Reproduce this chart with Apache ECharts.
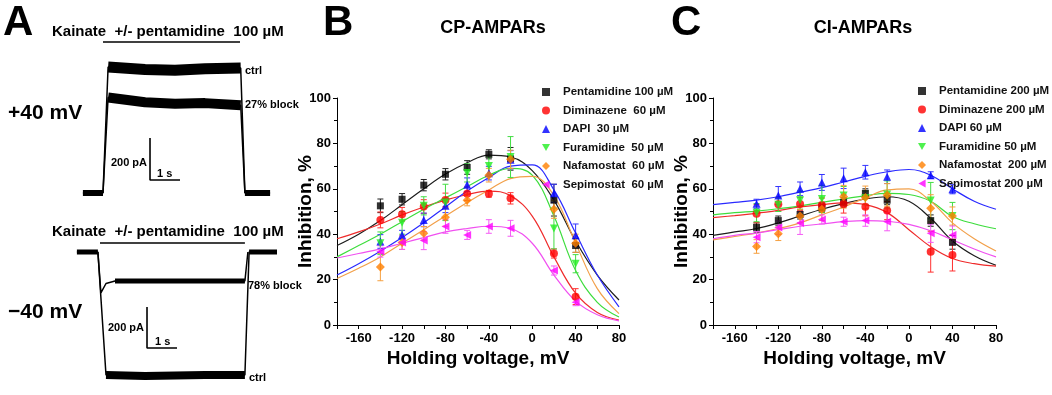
<!DOCTYPE html>
<html>
<head>
<meta charset="utf-8">
<script src="https://cdn.jsdelivr.net/npm/echarts@6.0.0/dist/echarts.min.js"></script>
<style>
html,body{margin:0;padding:0;background:#fff;}
#chart{width:1052px;height:395px;}
</style>
</head>
<body>
<div id="chart"></div>
<script>
// ---- panel A: example traces (time in s, current in pA) ----
var topCtrlTime = [0.43, 1.1, 1.27, 2.5, 3.5, 4.5, 5.69, 5.83, 6.67];
var topCtrlCurrent = [0, 0, 600, 588, 585, 592, 595, 0, 0];
var topBlockTime = [1.1, 1.27, 2.5, 3.5, 4.5, 5.69, 5.83];
var topBlockCurrent = [0, 455, 432, 425, 428, 418, 0];
var botCtrlTime = [0.23, 0.93, 1.2, 2.5, 3.5, 4.5, 5.83, 5.97, 6.9];
var botCtrlCurrent = [0, 0, -586, -590, -588, -586, -586, 0, 0];
var botBlockTime = [0.93, 1.03, 1.2, 1.5, 3.5, 5.83, 5.93];
var botBlockCurrent = [0, -195, -150, -138, -138, -138, 0];

// ---- panels B / C ----
var voltages = [-140, -120, -100, -80, -60, -40, -20, 20, 40];
var fitVoltages = [-180, -160, -140, -120, -100, -80, -60, -40, -20, 0, 20, 40, 60, 80];
var xTicks = [-160, -120, -80, -40, 0, 40, 80];

var cpNames = ['Pentamidine 100 µM', 'Diminazene  60 µM', 'DAPI  30 µM', 'Furamidine  50 µM', 'Nafamostat  60 µM', 'Sepimostat  60 µM'];
var cpPentamidine = [52.5, 55.4, 61.6, 66.4, 69.4, 75.2, 73.2, 55, 35];
var cpPentamidineErr = [3, 2.5, 2.5, 2.5, 3, 2, 5, 7, 3];
var cpPentamidineFit = [35, 40, 46, 53, 60, 66.5, 71.5, 74.8, 74, 68, 55, 37, 22, 11];
var cpDiminazene = [46.3, 48.8, 52.2, 55.1, 57.8, 57.8, 55.8, 31.5, 12.5];
var cpDiminazeneErr = [3.5, 3, 3, 3, 3, 1.5, 2.5, 2, 3.5];
var cpDiminazeneFit = [38, 41, 44.5, 48.5, 52, 55, 57.5, 59, 57, 48, 30, 14, 5.5, 2.2];
var cpDapi = [36.8, 39.7, 46.3, 52.5, 61.8, 66.9, 72.8, 58, 39.5];
var cpDapiErr = [3, 2, 3, 3, 3, 3, 4, 4, 5];
var cpDapiFit = [22, 27, 32.5, 38.5, 45, 52, 59, 65, 70, 70.5, 59.5, 40.5, 22, 8];
var cpFuramidine = [36, 45, 52.5, 54, 67, 70, 74, 42.5, 27];
var cpFuramidineErr = [5, 5, 4, 8, 4, 4, 9, 9, 4];
var cpFuramidineFit = [30, 35, 40, 45.5, 51, 56, 61, 66, 69, 66, 48, 24, 10, 3.5];
var cpNafamostat = [25.5, 36.3, 40.4, 47.5, 55, 66, 73, 51, 36];
var cpNafamostatErr = [6, 3, 3, 4, 2.5, 3, 4, 4, 4];
var cpNafamostatFit = [20.5, 25, 30, 36, 42, 48, 54, 59.5, 64.5, 65.5, 57, 36, 16, 5];
var cpSepimostat = [32.4, 36.3, 37.2, 43.4, 39.7, 43.4, 42.6, 24, 10];
var cpSepimostatErr = [2.5, 3, 4, 3, 2, 3, 3.5, 2, 1.5];
var cpSepimostatFit = [29.5, 31.5, 33.5, 36, 38.5, 41, 42.5, 43.5, 42.5, 36, 22, 10.5, 4.5, 1.8];

var ciNames = ['Pentamidine 200 µM', 'Diminazene 200 µM', 'DAPI 60 µM', 'Furamidine 50 µM', 'Nafamostat  200 µM', 'Sepimostat 200 µM'];
var ciPentamidine = [43, 46, 48.7, 51.6, 54, 58, 55, 46, 36.4];
var ciPentamidineErr = [2, 2, 2, 2, 2, 2, 2, 2.5, 3];
var ciPentamidineFit = [39.5, 41, 42.5, 45, 48, 51, 53.5, 55.5, 56.5, 54.5, 47, 37, 30.5, 26.3];
var ciDiminazene = [49, 53.2, 53.3, 52.9, 53.3, 52.1, 50.4, 32.3, 30.8];
var ciDiminazeneErr = [4, 3, 3, 3, 4, 4, 4, 9, 7];
var ciDiminazeneFit = [47.3, 48.2, 49.2, 50.5, 52, 53, 53.8, 53, 49.5, 42, 34.5, 29.3, 27, 25.9];
var ciDapi = [53.4, 57, 60, 62.8, 64.6, 67.3, 65.3, 66, 59.8];
var ciDapiErr = [2, 4, 3, 3.5, 4.5, 3, 3, 1.5, 2];
var ciDapiFit = [53, 54, 55, 56.5, 58.5, 60.5, 63, 65.5, 67.5, 68.5, 66, 60, 54.5, 51];
var ciFuramidine = [49.5, 53, 55, 55.5, 57, 56, 57.5, 54.8, 48];
var ciFuramidineErr = [4, 3, 4, 6, 4, 3, 6, 8, 6];
var ciFuramidineFit = [48.5, 49.5, 50.2, 51.2, 52.5, 54, 55.5, 57, 58, 57.5, 54.5, 47.8, 44.6, 42.4];
var ciNafamostat = [34.6, 40.2, 48, 51, 56.5, 56.2, 57.3, 51.4, 48];
var ciNafamostatErr = [3, 3, 3, 5, 5, 5, 5, 6, 4];
var ciNafamostatFit = [37.5, 39, 40.5, 42.5, 45, 48.5, 52, 56, 59.5, 60, 54.5, 45, 38, 32.6];
var ciSepimostat = [38.7, 42.9, 44.9, 46.5, 45.5, 46, 45.5, 40.4, 39.6];
var ciSepimostatErr = [2.5, 3, 5, 2, 2, 2.5, 4, 4, 4];
var ciSepimostatFit = [38, 39.5, 40.5, 42, 43.5, 44.5, 45.5, 46, 45.7, 44.3, 41.5, 37.5, 33.5, 30];

var FONT = '"Liberation Sans", Arial, sans-serif';
var DOWN_TRI = 'path://M0,0L10,0L5,9Z';
var LEFT_TRI = 'path://M9,0L9,10L0,5Z';

var markers = [
    {symbol: 'rect', size: 7, color: '#000000', line: '#1c1c1c', bar: '#222222'},
    {symbol: 'circle', size: 8, color: '#ff0000', line: '#ef2b2b', bar: '#ff3030'},
    {symbol: 'triangle', size: 8, color: '#0000ff', line: '#2a2aff', bar: '#3434ff'},
    {symbol: DOWN_TRI, size: 8, color: '#22ee22', line: '#3ddd3d', bar: '#44dd44'},
    {symbol: 'diamond', size: 9, color: '#ff8000', line: '#f2a04a', bar: '#f5a040'},
    {symbol: LEFT_TRI, size: 8, color: '#ff00ff', line: '#f050f0', bar: '#f55af5'}
];

function pairs(xs, ys) {
    return xs.map(function (x, i) { return [x, ys[i]]; });
}
function bars(xs, ys, es) {
    return xs.map(function (x, i) { return [x, ys[i] - es[i], ys[i] + es[i]]; });
}

function errorBar(params, api) {
    var x = api.value(0);
    var lo = api.coord([x, api.value(1)]);
    var hi = api.coord([x, api.value(2)]);
    var c = api.visual('color');
    var w = 3;
    var st = {stroke: c, lineWidth: 1};
    return {
        type: 'group',
        children: [
            {type: 'line', shape: {x1: lo[0], y1: lo[1], x2: hi[0], y2: hi[1]}, style: st},
            {type: 'line', shape: {x1: lo[0] - w, y1: lo[1], x2: lo[0] + w, y2: lo[1]}, style: st},
            {type: 'line', shape: {x1: hi[0] - w, y1: hi[1], x2: hi[0] + w, y2: hi[1]}, style: st}
        ]
    };
}

function panelSeries(names, values, errs, fits, idx) {
    var out = [];
    names.forEach(function (n, i) {
        var m = markers[i];
        out.push({
            name: n + ' fit', type: 'line', xAxisIndex: idx, yAxisIndex: idx,
            data: pairs(fitVoltages, fits[i]), smooth: 0.4, showSymbol: false, silent: true, z: 2,
            lineStyle: {color: m.line, width: 1.2}
        });
    });
    names.forEach(function (n, i) {
        out.push({
            name: n + ' sem', type: 'custom', xAxisIndex: idx, yAxisIndex: idx,
            data: bars(voltages, values[i], errs[i]), renderItem: errorBar, z: 3,
            itemStyle: {color: markers[i].bar}
        });
    });
    names.forEach(function (n, i) {
        var m = markers[i];
        out.push({
            name: n, type: 'scatter', xAxisIndex: idx, yAxisIndex: idx,
            data: pairs(voltages, values[i]), symbol: m.symbol, symbolSize: m.size, z: 4,
            itemStyle: {color: m.color}
        });
    });
    return out;
}

function legendData(names) {
    return names.map(function (n, i) {
        return {name: n, icon: markers[i].symbol};
    });
}

function traceLine(t, c, idx, width) {
    return {
        type: 'line', xAxisIndex: idx, yAxisIndex: idx, data: pairs(t, c),
        showSymbol: false, silent: true, lineStyle: {color: '#000', width: width, cap: 'butt'}
    };
}

function boldText(x, y, text, size, align) {
    return {
        type: 'text', x: x, y: y,
        style: {text: text, font: 'bold ' + size + 'px ' + FONT, fill: '#000', align: align || 'left', verticalAlign: 'middle'}
    };
}

function valueAxisX(grid) {
    return {
        type: 'value', gridIndex: grid, min: -180, max: 80, interval: 20,
        name: 'Holding voltage, mV', nameLocation: 'middle', nameGap: 24, nameMoveOverlap: false,
        nameTextStyle: {fontFamily: FONT, fontWeight: 'bold', fontSize: 19, color: '#000'},
        axisLine: {onZero: false, lineStyle: {color: '#000', width: 1}},
        axisTick: {length: 4, lineStyle: {color: '#000'}},
        axisLabel: {
            fontFamily: FONT, fontWeight: 'bold', fontSize: 13, color: '#000', margin: 7,
            formatter: function (v) { return xTicks.indexOf(v) >= 0 ? String(v) : ''; }
        },
        splitLine: {show: false}
    };
}
function valueAxisY(grid) {
    return {
        type: 'value', gridIndex: grid, min: 0, max: 100, interval: 20,
        name: 'Inhibition, %', nameLocation: 'middle', nameGap: 22, nameMoveOverlap: false,
        nameTextStyle: {fontFamily: FONT, fontWeight: 'bold', fontSize: 19, color: '#000'},
        axisLine: {show: true, onZero: false, lineStyle: {color: '#000', width: 1}},
        axisTick: {show: true, length: 4, lineStyle: {color: '#000'}},
        minorTick: {show: true, splitNumber: 2, length: 3, lineStyle: {color: '#000'}},
        axisLabel: {fontFamily: FONT, fontWeight: 'bold', fontSize: 13, color: '#000', margin: 6},
        splitLine: {show: false}
    };
}
function hiddenAxis(grid, min, max) {
    return {type: 'value', gridIndex: grid, min: min, max: max, show: false, splitLine: {show: false}};
}

var legendText = {fontFamily: FONT, fontWeight: 'bold', fontSize: 11.5, color: '#111', padding: [0, 0, 0, 8]};

var option = {
    animation: false,
    backgroundColor: '#fff',
    grid: [
        {left: 70, top: 25, width: 210, height: 189},
        {left: 70, top: 210, width: 210, height: 178.5},
        {left: 337, top: 98, width: 282, height: 227},
        {left: 713, top: 98, width: 283, height: 227}
    ],
    xAxis: [hiddenAxis(0, 0, 7), hiddenAxis(1, 0, 7), valueAxisX(2), valueAxisX(3)],
    yAxis: [hiddenAxis(0, -100, 800), hiddenAxis(1, -650, 200), valueAxisY(2), valueAxisY(3)],
    legend: [
        {data: legendData(cpNames), orient: 'vertical', left: 537, top: 81, itemWidth: 8, itemHeight: 8, itemGap: 6.5, textStyle: legendText},
        {data: legendData(ciNames), orient: 'vertical', left: 913, top: 80, itemWidth: 8, itemHeight: 8, itemGap: 6.5, textStyle: legendText}
    ],
    graphic: [
        boldText(3, 23, 'A', 42),
        boldText(323, 23, 'B', 42),
        boldText(671, 23, 'C', 42),
        boldText(493, 28, 'CP-AMPARs', 18, 'center'),
        boldText(863, 28, 'CI-AMPARs', 18, 'center'),
        boldText(52, 32, 'Kainate  +/- pentamidine  100 µM', 15),
        boldText(52, 232, 'Kainate  +/- pentamidine  100 µM', 15),
        boldText(8, 113, '+40 mV', 21),
        boldText(8, 312, '\u221240 mV', 21),
        boldText(245, 71, 'ctrl', 11),
        boldText(245, 105, '27% block', 11),
        boldText(248, 286, '78% block', 11),
        boldText(249, 378, 'ctrl', 11),
        boldText(147, 163, '200 pA', 11, 'right'),
        boldText(157, 174, '1 s', 11),
        boldText(144, 328, '200 pA', 11, 'right'),
        boldText(155, 342, '1 s', 11)
    ],
    series: [].concat(
        [
            // application bars
            traceLine([1.1, 5.667], [719, 719], 0, 1.6),
            traceLine([1.0, 5.83], [43, 43], 1, 1.6),
            // scale bars
            traceLine([2.667, 2.667, 3.667], [262, 62, 62], 0, 1.6),
            traceLine([2.567, 2.567, 3.567], [-262, -457, -457], 1, 1.6),
            // traces
            traceLine(topCtrlTime, topCtrlCurrent, 0, 1.5),
            traceLine(topBlockTime, topBlockCurrent, 0, 1.5),
            traceLine(botCtrlTime, botCtrlCurrent, 1, 1.5),
            traceLine(botBlockTime, botBlockCurrent, 1, 1.5),
            // noise bands on plateaus and baselines
            traceLine(topCtrlTime.slice(2, 7), topCtrlCurrent.slice(2, 7), 0, 11),
            traceLine(topBlockTime.slice(1, 6), topBlockCurrent.slice(1, 6), 0, 10),
            traceLine(topCtrlTime.slice(0, 2), topCtrlCurrent.slice(0, 2), 0, 6),
            traceLine(topCtrlTime.slice(7), topCtrlCurrent.slice(7), 0, 6),
            traceLine(botCtrlTime.slice(2, 7), botCtrlCurrent.slice(2, 7), 1, 8),
            traceLine(botBlockTime.slice(3, 6), botBlockCurrent.slice(3, 6), 1, 5),
            traceLine(botCtrlTime.slice(0, 2), botCtrlCurrent.slice(0, 2), 1, 5),
            traceLine(botCtrlTime.slice(7), botCtrlCurrent.slice(7), 1, 5)
        ],
        panelSeries(cpNames,
            [cpPentamidine, cpDiminazene, cpDapi, cpFuramidine, cpNafamostat, cpSepimostat],
            [cpPentamidineErr, cpDiminazeneErr, cpDapiErr, cpFuramidineErr, cpNafamostatErr, cpSepimostatErr],
            [cpPentamidineFit, cpDiminazeneFit, cpDapiFit, cpFuramidineFit, cpNafamostatFit, cpSepimostatFit], 2),
        panelSeries(ciNames,
            [ciPentamidine, ciDiminazene, ciDapi, ciFuramidine, ciNafamostat, ciSepimostat],
            [ciPentamidineErr, ciDiminazeneErr, ciDapiErr, ciFuramidineErr, ciNafamostatErr, ciSepimostatErr],
            [ciPentamidineFit, ciDiminazeneFit, ciDapiFit, ciFuramidineFit, ciNafamostatFit, ciSepimostatFit], 3)
    )
};

var myChart = echarts.init(document.getElementById('chart'));
myChart.setOption(option);
</script>
</body>
</html>
